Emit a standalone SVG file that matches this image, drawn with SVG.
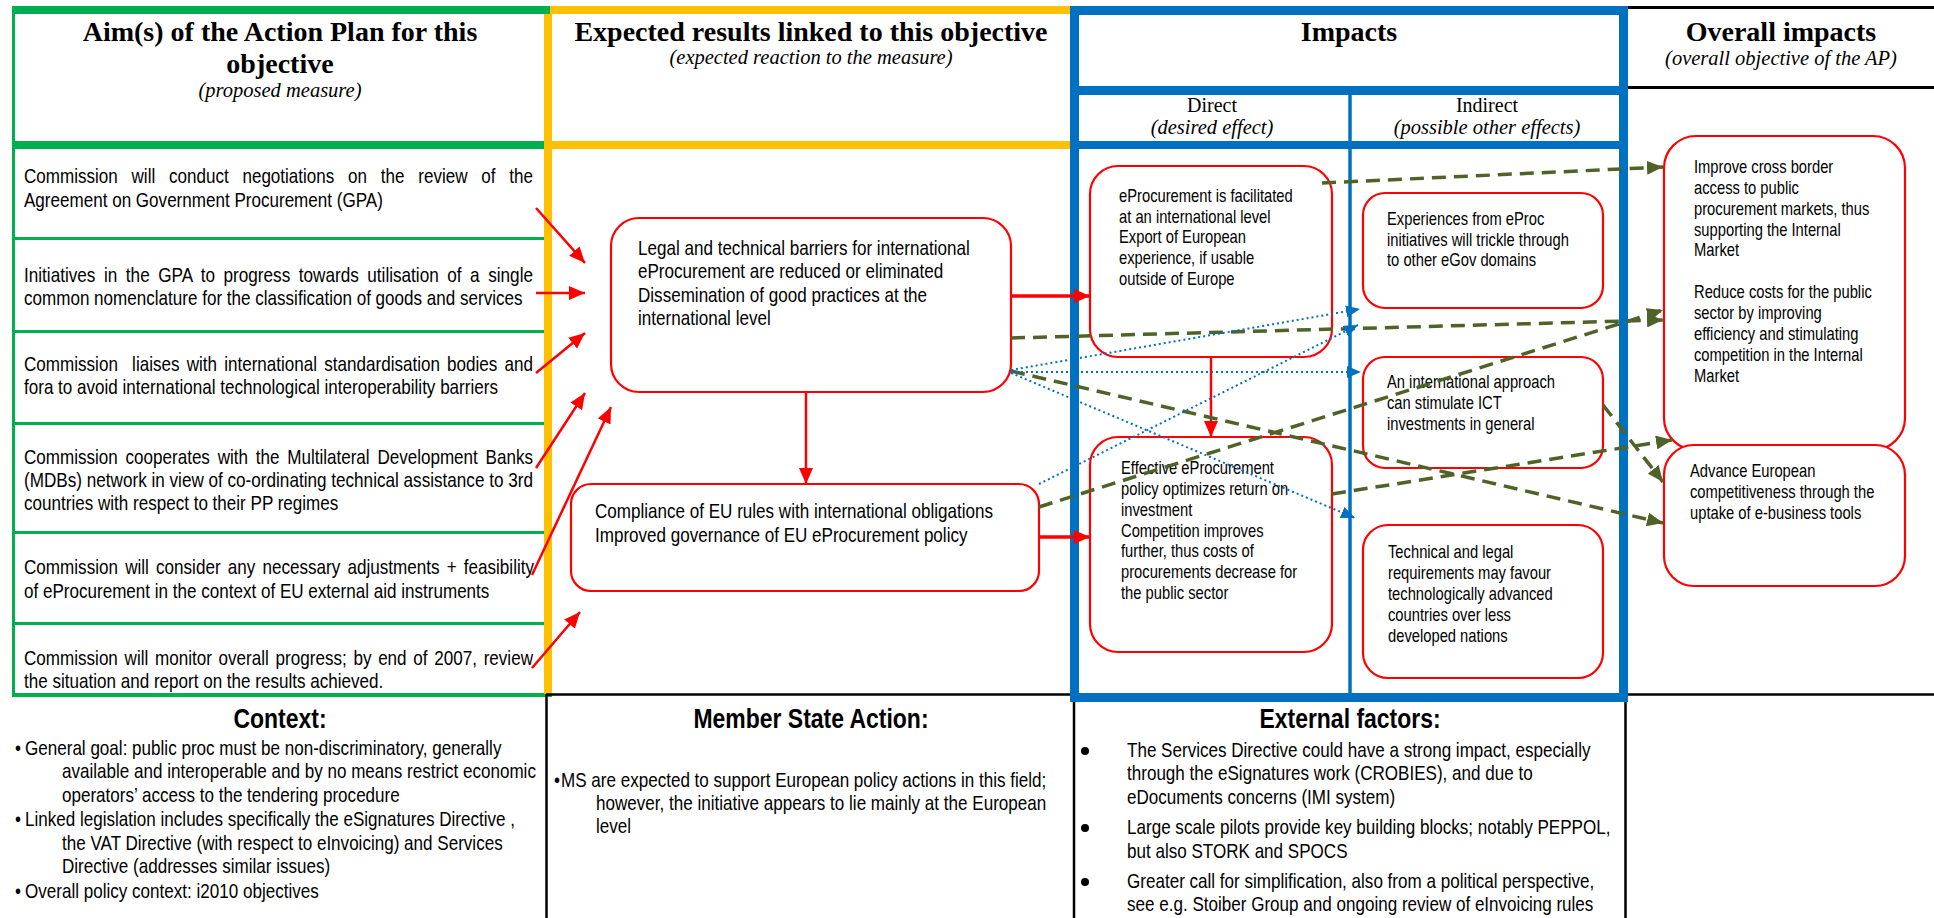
<svg xmlns="http://www.w3.org/2000/svg" width="1934" height="918" viewBox="0 0 1934 918">
  <style>
    .hd  { font-family: "Liberation Serif", "Times New Roman", serif; font-weight: bold; font-size: 28px; text-anchor: middle; fill: #000; }
    .sub { font-family: "Liberation Serif", "Times New Roman", serif; font-style: italic; font-size: 20.5px; text-anchor: middle; fill: #000; }
    .lab { font-family: "Liberation Serif", "Times New Roman", serif; font-size: 20px; text-anchor: middle; fill: #000; }
    /* narrow body text: Arial-metric face squeezed by the parent group's scale(0.82 1) */
    .t   { font-family: "Liberation Sans", Arial, sans-serif; font-size: 20.8px; fill: #000; }
    .s   { font-family: "Liberation Sans", Arial, sans-serif; font-size: 18px; fill: #000; }
    .bh  { font-family: "Liberation Sans", Arial, sans-serif; font-weight: bold; font-size: 28px; text-anchor: middle; fill: #000; }
    .box { fill: #fff; stroke: #FF0000; stroke-width: 2.2; }
    .cr  { fill: none; stroke: #FF0000; stroke-width: 2.5; }
    .crw { fill: none; stroke: #FF0000; stroke-width: 3.5; }
    .cg  { fill: none; stroke: #4F6228; stroke-width: 3.5; stroke-dasharray: 14 8; }
    .cb  { fill: none; stroke: #0070C0; stroke-width: 2; stroke-dasharray: 2 3; }
    .grn { fill: #00B050; }
    .ylw { fill: #FFC000; }
    .blu { fill: none; stroke: #0070C0; }
    .blk { fill: none; stroke: #000; }
    .bul { fill: #000; }
  </style>
  <defs>
    <marker id="mr" viewBox="0 0 16 14" refX="16" refY="7" markerWidth="16" markerHeight="14" markerUnits="userSpaceOnUse" orient="auto">
      <path d="M0,0 L16,7 L0,14 z" fill="#FF0000"/>
    </marker>
    <marker id="mg" viewBox="0 0 16 14" refX="16" refY="7" markerWidth="16" markerHeight="14" markerUnits="userSpaceOnUse" orient="auto">
      <path d="M0,0 L16,7 L0,14 z" fill="#4F6228"/>
    </marker>
    <marker id="mb" viewBox="0 0 14 12" refX="14" refY="6" markerWidth="14" markerHeight="12" markerUnits="userSpaceOnUse" orient="auto">
      <path d="M0,0 L14,6 L0,12 z" fill="#0070C0"/>
    </marker>
  </defs>

  <rect width="1934" height="918" fill="#fff"/>

  <!-- table frame -->
  <g id="frame">
    <!-- aims column (green) -->
    <rect class="grn" x="12" y="6" width="538" height="8"/>
    <rect class="grn" x="12" y="6" width="3" height="691"/>
    <rect class="grn" x="12" y="141" width="534" height="8"/>
    <rect class="grn" x="14" y="237" width="532" height="3"/>
    <rect class="grn" x="14" y="330" width="532" height="3"/>
    <rect class="grn" x="14" y="422" width="532" height="3"/>
    <rect class="grn" x="14" y="531" width="532" height="3"/>
    <rect class="grn" x="14" y="622" width="532" height="3"/>
    <rect class="grn" x="12" y="693" width="540" height="4"/>
    <!-- expected results column (yellow) -->
    <rect class="ylw" x="544" y="14" width="8" height="680"/>
    <rect class="ylw" x="550" y="6" width="525" height="8"/>
    <rect class="ylw" x="552" y="141" width="523" height="8"/>
    <!-- bottom row and overall impacts rules (black) -->
    <line class="blk" x1="1628" y1="7.5" x2="1934" y2="7.5" stroke-width="3"/>
    <line class="blk" x1="1628" y1="87.5" x2="1934" y2="87.5" stroke-width="3"/>
    <line class="blk" x1="546" y1="694.5" x2="1934" y2="694.5" stroke-width="2.5"/>
    <line class="blk" x1="546.5" y1="694" x2="546.5" y2="918" stroke-width="2.5"/>
    <line class="blk" x1="1074" y1="694" x2="1074" y2="918" stroke-width="2.5"/>
    <line class="blk" x1="1625.5" y1="694" x2="1625.5" y2="918" stroke-width="2.5"/>
    <!-- impacts column (blue) -->
    <rect class="blu" x="1074.5" y="10.5" width="549" height="687" stroke-width="9"/>
    <line class="blu" x1="1070" y1="90.5" x2="1628" y2="90.5" stroke-width="9"/>
    <line class="blu" x1="1070" y1="145" x2="1628" y2="145" stroke-width="8"/>
    <line class="blu" x1="1350" y1="90" x2="1350" y2="698" stroke-width="3.5"/>
  </g>

  <!-- column headings -->
  <g id="headings">
    <text class="hd" x="280" y="41">Aim(s) of the Action Plan for this</text>
    <text class="hd" x="280" y="73">objective</text>
    <text class="sub" x="280" y="97">(proposed measure)</text>
    <text class="hd" x="811" y="41">Expected results linked to this objective</text>
    <text class="sub" x="811" y="64">(expected reaction to the measure)</text>
    <text class="hd" x="1349" y="41">Impacts</text>
    <text class="lab" x="1212" y="112">Direct</text>
    <text class="sub" x="1212" y="134">(desired effect)</text>
    <text class="lab" x="1487" y="112">Indirect</text>
    <text class="sub" x="1487" y="134">(possible other effects)</text>
    <text class="hd" x="1781" y="41">Overall impacts</text>
    <text class="sub" x="1781" y="65">(overall objective of the AP)</text>
  </g>

  <!-- proposed measures (justified lines stretched to the cell width) -->
  <g id="aim1" transform="translate(24 0) scale(0.82 1)">
    <text class="t" x="0" y="183" style="word-spacing:11px" textLength="620.7" lengthAdjust="spacingAndGlyphs">Commission will conduct negotiations on the review of the</text>
    <text class="t" x="0" y="207">Agreement on Government Procurement (GPA)</text>
  </g>
  <g id="aim2" transform="translate(24 0) scale(0.82 1)">
    <text class="t" x="0" y="282" style="word-spacing:4.6px" textLength="620.7" lengthAdjust="spacingAndGlyphs">Initiatives in the GPA to progress towards utilisation of a single</text>
    <text class="t" x="0" y="305">common nomenclature for the classification of goods and services</text>
  </g>
  <g id="aim3" transform="translate(24 0) scale(0.82 1)">
    <text class="t" x="0" y="371" style="word-spacing:2.9px" textLength="620.7" lengthAdjust="spacingAndGlyphs">Commission &#160;liaises with international standardisation bodies and</text>
    <text class="t" x="0" y="394">fora to avoid international technological interoperability barriers</text>
  </g>
  <g id="aim4" transform="translate(24 0) scale(0.82 1)">
    <text class="t" x="0" y="464" style="word-spacing:3.7px" textLength="620.7" lengthAdjust="spacingAndGlyphs">Commission cooperates with the Multilateral Development Banks</text>
    <text class="t" x="0" y="487" textLength="620.7" lengthAdjust="spacingAndGlyphs">(MDBs) network in view of co-ordinating technical assistance to 3rd</text>
    <text class="t" x="0" y="510">countries with respect to their PP regimes</text>
  </g>
  <g id="aim5" transform="translate(24 0) scale(0.82 1)">
    <text class="t" x="0" y="574" style="word-spacing:2.9px" textLength="622" lengthAdjust="spacingAndGlyphs">Commission will consider any necessary adjustments + feasibility</text>
    <text class="t" x="0" y="598">of eProcurement in the context of EU external aid instruments</text>
  </g>
  <g id="aim6" transform="translate(24 0) scale(0.82 1)">
    <text class="t" x="0" y="665" style="word-spacing:2.4px" textLength="620.7" lengthAdjust="spacingAndGlyphs">Commission will monitor overall progress; by end of 2007, review</text>
    <text class="t" x="0" y="688">the situation and report on the results achieved.</text>
  </g>

  <!-- expected results -->
  <g id="result-barriers">
    <rect class="box" x="611" y="218" width="400" height="174" rx="28"/>
    <g transform="translate(638 0) scale(0.82 1)">
      <text class="t" x="0" y="255">Legal and technical barriers for international</text>
      <text class="t" x="0" y="278">eProcurement are reduced or eliminated</text>
      <text class="t" x="0" y="302">Dissemination of good practices at the</text>
      <text class="t" x="0" y="325">international level</text>
    </g>
  </g>
  <g id="result-compliance">
    <rect class="box" x="571" y="484" width="468" height="107" rx="20"/>
    <g transform="translate(595 0) scale(0.82 1)">
      <text class="t" x="0" y="518">Compliance of EU rules with international obligations</text>
      <text class="t" x="0" y="542">Improved governance of EU eProcurement policy</text>
    </g>
  </g>

  <!-- direct impacts -->
  <g id="direct-facilitated">
    <rect class="box" x="1090" y="166" width="242" height="191" rx="28"/>
    <g transform="translate(1119 0) scale(0.82 1)">
      <text class="s" x="0" y="202">eProcurement is facilitated</text>
      <text class="s" x="0" y="223">at an international level</text>
      <text class="s" x="0" y="243">Export of European</text>
      <text class="s" x="0" y="264">experience, if usable</text>
      <text class="s" x="0" y="285">outside of Europe</text>
    </g>
  </g>
  <g id="direct-policy">
    <rect class="box" x="1090" y="437" width="242" height="215" rx="28"/>
    <g transform="translate(1121 0) scale(0.82 1)">
      <text class="s" x="0" y="474">Effective eProcurement</text>
      <text class="s" x="0" y="495">policy optimizes return on</text>
      <text class="s" x="0" y="516">investment</text>
      <text class="s" x="0" y="537">Competition improves</text>
      <text class="s" x="0" y="557">further, thus costs of</text>
      <text class="s" x="0" y="578">procurements decrease for</text>
      <text class="s" x="0" y="599">the public sector</text>
    </g>
  </g>

  <!-- indirect impacts -->
  <g id="indirect-egov">
    <rect class="box" x="1363" y="193" width="240" height="115" rx="22"/>
    <g transform="translate(1387 0) scale(0.82 1)">
      <text class="s" x="0" y="225">Experiences from eProc</text>
      <text class="s" x="0" y="246">initiatives will trickle through</text>
      <text class="s" x="0" y="266">to other eGov domains</text>
    </g>
  </g>
  <g id="indirect-ict">
    <rect class="box" x="1363" y="357" width="240" height="111" rx="22"/>
    <g transform="translate(1387 0) scale(0.82 1)">
      <text class="s" x="0" y="388">An international approach</text>
      <text class="s" x="0" y="409">can stimulate ICT</text>
      <text class="s" x="0" y="430">investments in general</text>
    </g>
  </g>
  <g id="indirect-requirements">
    <rect class="box" x="1363" y="525" width="240" height="153" rx="25"/>
    <g transform="translate(1388 0) scale(0.82 1)">
      <text class="s" x="0" y="558">Technical and legal</text>
      <text class="s" x="0" y="579">requirements may favour</text>
      <text class="s" x="0" y="600">technologically advanced</text>
      <text class="s" x="0" y="621">countries over less</text>
      <text class="s" x="0" y="642">developed nations</text>
    </g>
  </g>

  <!-- overall impacts -->
  <g id="overall-market">
    <rect class="box" x="1664" y="136" width="241" height="314" rx="32"/>
    <g transform="translate(1694 0) scale(0.82 1)">
      <text class="s" x="0" y="173">Improve cross border</text>
      <text class="s" x="0" y="194">access to public</text>
      <text class="s" x="0" y="215">procurement markets, thus</text>
      <text class="s" x="0" y="236">supporting the Internal</text>
      <text class="s" x="0" y="256">Market</text>
      <text class="s" x="0" y="298">Reduce costs for the public</text>
      <text class="s" x="0" y="319">sector by improving</text>
      <text class="s" x="0" y="340">efficiency and stimulating</text>
      <text class="s" x="0" y="361">competition in the Internal</text>
      <text class="s" x="0" y="382">Market</text>
    </g>
  </g>
  <g id="overall-competitiveness">
    <rect class="box" x="1664" y="445" width="241" height="141" rx="30"/>
    <g transform="translate(1690 0) scale(0.82 1)">
      <text class="s" x="0" y="477">Advance European</text>
      <text class="s" x="0" y="498">competitiveness through the</text>
      <text class="s" x="0" y="519">uptake of e-business tools</text>
    </g>
  </g>

  <!-- bottom row -->
  <g id="context">
    <g transform="translate(280 0) scale(0.82 1)">
      <text class="bh" x="0" y="728">Context:</text>
    </g>
    <g transform="translate(15 0) scale(0.82 1)">
      <text class="t" x="0" y="755">•</text>
      <text class="t" x="12.2" y="755">General goal: public proc must be non-discriminatory, generally</text>
      <text class="t" x="57.3" y="778">available and interoperable and by no means restrict economic</text>
      <text class="t" x="57.3" y="802">operators’ access to the tendering procedure</text>
      <text class="t" x="0" y="826">•</text>
      <text class="t" x="12.2" y="826">Linked legislation includes specifically the eSignatures Directive ,</text>
      <text class="t" x="57.3" y="850">the VAT Directive (with respect to eInvoicing) and Services</text>
      <text class="t" x="57.3" y="873">Directive (addresses similar issues)</text>
      <text class="t" x="0" y="898">•</text>
      <text class="t" x="12.2" y="898">Overall policy context: i2010 objectives</text>
    </g>
  </g>
  <g id="member-state-action">
    <g transform="translate(811 0) scale(0.82 1)">
      <text class="bh" x="0" y="728">Member State Action:</text>
    </g>
    <g transform="translate(554 0) scale(0.82 1)">
      <text class="t" x="0" y="787">•</text>
      <text class="t" x="8.5" y="787">MS are expected to support European policy actions in this field;</text>
      <text class="t" x="51.2" y="810">however, the initiative appears to lie mainly at the European</text>
      <text class="t" x="51.2" y="833">level</text>
    </g>
  </g>
  <g id="external-factors">
    <g transform="translate(1350 0) scale(0.82 1)">
      <text class="bh" x="0" y="728">External factors:</text>
    </g>
    <circle class="bul" cx="1085" cy="751" r="4"/>
    <circle class="bul" cx="1085" cy="828" r="4"/>
    <circle class="bul" cx="1085" cy="882" r="4"/>
    <g transform="translate(1127 0) scale(0.82 1)">
      <text class="t" x="0" y="757">The Services Directive could have a strong impact, especially</text>
      <text class="t" x="0" y="780">through the eSignatures work (CROBIES), and due to</text>
      <text class="t" x="0" y="804">eDocuments concerns (IMI system)</text>
      <text class="t" x="0" y="834">Large scale pilots provide key building blocks; notably PEPPOL,</text>
      <text class="t" x="0" y="858">but also STORK and SPOCS</text>
      <text class="t" x="0" y="888">Greater call for simplification, also from a political perspective,</text>
      <text class="t" x="0" y="911">see e.g. Stoiber Group and ongoing review of eInvoicing rules</text>
    </g>
  </g>

  <!-- connectors -->
  <g id="connectors">
    <!-- measures to expected results -->
    <line class="cr" x1="536" y1="208" x2="585" y2="263" marker-end="url(#mr)"/>
    <line class="cr" x1="536" y1="293" x2="585" y2="293" marker-end="url(#mr)"/>
    <line class="cr" x1="536" y1="373" x2="585" y2="333" marker-end="url(#mr)"/>
    <line class="cr" x1="536" y1="468" x2="585" y2="393" marker-end="url(#mr)"/>
    <line class="cr" x1="532" y1="575" x2="611" y2="407" marker-end="url(#mr)"/>
    <line class="cr" x1="532" y1="668" x2="580" y2="612" marker-end="url(#mr)"/>
    <line class="cr" x1="806" y1="392" x2="806" y2="484" marker-end="url(#mr)"/>
    <!-- results to direct impacts -->
    <line class="crw" x1="1011" y1="296" x2="1090" y2="296" marker-end="url(#mr)"/>
    <line class="crw" x1="1039" y1="537" x2="1090" y2="537" marker-end="url(#mr)"/>
    <line class="cr" x1="1211" y1="358" x2="1211" y2="437" stroke-width="3" marker-end="url(#mr)"/>
    <!-- contributions to overall impacts -->
    <line class="cg" x1="1322" y1="183" x2="1663" y2="167" marker-end="url(#mg)"/>
    <line class="cg" x1="1011" y1="338" x2="1663" y2="320" marker-end="url(#mg)"/>
    <line class="cg" x1="1039" y1="507" x2="1663" y2="310" marker-end="url(#mg)"/>
    <line class="cg" x1="1011" y1="371" x2="1663" y2="523" marker-end="url(#mg)"/>
    <line class="cg" x1="1332" y1="494" x2="1672" y2="440" marker-end="url(#mg)"/>
    <line class="cg" x1="1603" y1="405" x2="1663" y2="482" marker-end="url(#mg)"/>
    <!-- side effects -->
    <line class="cb" x1="1011" y1="370" x2="1360" y2="309" marker-end="url(#mb)"/>
    <line class="cb" x1="1011" y1="372" x2="1361" y2="372" marker-end="url(#mb)"/>
    <line class="cb" x1="1039" y1="484" x2="1358" y2="325" marker-end="url(#mb)"/>
    <line class="cb" x1="1011" y1="373" x2="1355" y2="518" marker-end="url(#mb)"/>
  </g>
</svg>
